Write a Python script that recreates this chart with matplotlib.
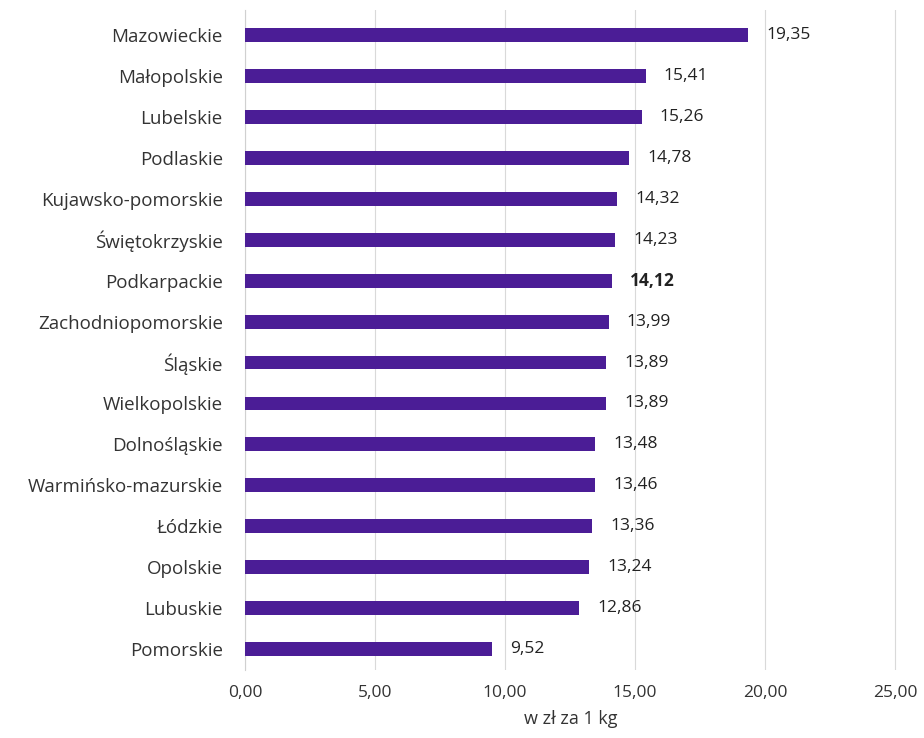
import numpy as np
import matplotlib.pyplot as plt

plt.rcParams["font.family"] = ["Open Sans", "DejaVu Sans"]

wojewodztwa = ["Mazowieckie", "Małopolskie", "Lubelskie", "Podlaskie",
               "Kujawsko-pomorskie", "Świętokrzyskie", "Podkarpackie",
               "Zachodniopomorskie", "Śląskie", "Wielkopolskie", "Dolnośląskie",
               "Warmińsko-mazurskie", "Łódzkie", "Opolskie", "Lubuskie", "Pomorskie"]
ceny = [19.35, 15.41, 15.26, 14.78, 14.32, 14.23, 14.12, 13.99, 13.89, 13.89,
        13.48, 13.46, 13.36, 13.24, 12.86, 9.52]
wyrozniony = "Podkarpackie"
xticks = [0, 5, 10, 15, 20, 25]

fig = plt.figure(figsize=(9.24, 7.38), dpi=100)
ax = fig.add_axes([245 / 924, 1 - 670 / 738, 652 / 924, 660 / 738])

y = np.arange(len(wojewodztwa))
ax.barh(y, ceny, height=0.34, color="#4B1D96", zorder=3)

# etykiety wartości (przecinek dziesiętny)
for yi, nazwa, v in zip(y, wojewodztwa, ceny):
    txt = f"{v:.2f}".replace(".", ",")
    ax.annotate(txt, (v, yi), xytext=(13, 0), textcoords="offset points",
                va="center", ha="left", fontsize=12.5, color="#222222",
                fontweight="bold" if nazwa == wyrozniony else "normal")

ax.set_ylim(15.51, -0.61)
ax.set_xlim(0, 25.08)
ax.set_yticks(y)
ax.set_yticklabels(wojewodztwa, fontsize=13.5, color="#333333")
ax.set_xticks(xticks)
ax.set_xticklabels([f"{t:.2f}".replace(".", ",") for t in xticks],
                   fontsize=12.5, color="#333333")
ax.tick_params(axis="y", length=0, pad=16)
ax.tick_params(axis="x", length=0, pad=11)
ax.grid(axis="x", color="#d9d9d9", linewidth=0.8, zorder=0)
for s in ["top", "right", "bottom"]:
    ax.spines[s].set_visible(False)
ax.spines["left"].set_color("#d0d0d0")
ax.spines["left"].set_linewidth(0.8)
ax.set_xlabel("w zł za 1 kg", fontsize=13, color="#333333", labelpad=6)

fig.savefig("out.png", dpi=100)
